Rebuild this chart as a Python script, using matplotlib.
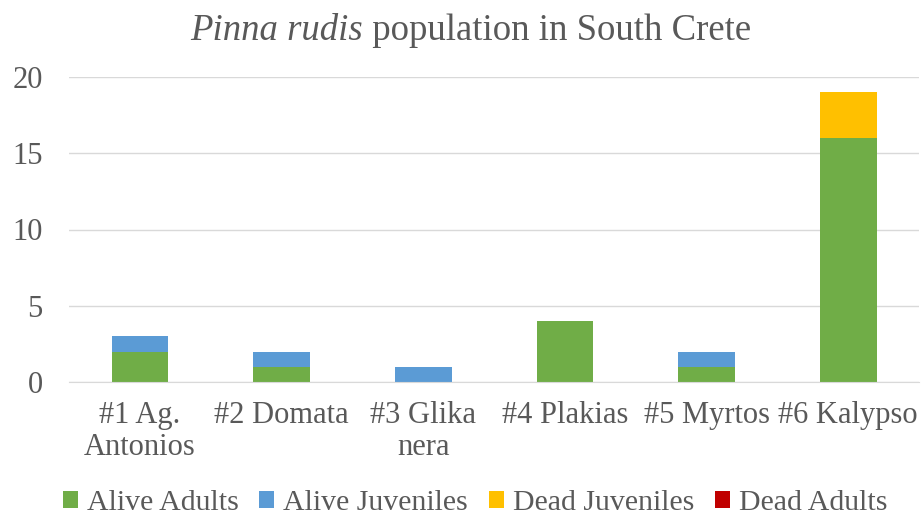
import matplotlib
matplotlib.use("Agg")
import matplotlib.pyplot as plt
import numpy as np

categories = ["#1 Ag.\nAntonios", "#2 Domata", "#3 Glika\nnera", "#4 Plakias", "#5 Myrtos", "#6 Kalypso"]
alive_adults = [2, 1, 0, 4, 1, 16]
alive_juveniles = [1, 1, 1, 0, 1, 0]
dead_juveniles = [0, 0, 0, 0, 0, 3]
dead_adults = [0, 0, 0, 0, 0, 0]
series_names = ["Alive Adults", "Alive Juveniles", "Dead Juveniles", "Dead Adults"]
colors = ["#70AD47", "#5B9BD5", "#FFC000", "#C00000"]
yticks = [0, 5, 10, 15, 20]

plt.rcParams['font.family'] = ['Liberation Serif', 'DejaVu Serif']
txt = "#595959"

fig = plt.figure(figsize=(9.22, 5.18), dpi=100)
ax = fig.add_axes([69/922, 1-382/518, (919-69)/922, (382-77)/518])

x = np.arange(len(categories))
bottom = np.zeros(len(categories))
for name, vals, c in zip(series_names, [alive_adults, alive_juveniles, dead_juveniles, dead_adults], colors):
    ax.bar(x, vals, width=0.4, bottom=bottom, color=c, label=name, zorder=3)
    bottom += np.array(vals)

ax.set_xlim(-0.5, len(categories) - 0.5)
ax.set_ylim(0, 20)
ax.set_yticks(yticks)
ax.set_xticks(x)
ax.set_xticklabels(categories, fontsize=22, color=txt, linespacing=1.12)
ax.tick_params(axis='y', labelsize=22, labelcolor=txt, length=0, pad=19)
ax.tick_params(axis='x', length=0, pad=14)
ax.grid(axis='y', color="#D9D9D9", linewidth=1, zorder=0)
for s in ['top', 'right', 'left']:
    ax.spines[s].set_visible(False)
ax.spines['bottom'].set_color("#D9D9D9")
ax.spines['bottom'].set_zorder(4)

# title with mixed styles
t1 = fig.text(0, 0, "Pinna rudis", fontsize=26.5, color=txt, style='italic')
t2 = fig.text(0, 0, " population in South Crete", fontsize=26.5, color=txt)
fig.canvas.draw()
r = fig.canvas.get_renderer()
w1 = t1.get_window_extent(r).width
W = fig.bbox.width
start = 190
yc = 1 - 31/518
t1.set_position((start / W, yc)); t1.set_va('center')
t2.set_position(((start + w1) / W, yc)); t2.set_va('center')

fig.legend(loc='center', bbox_to_anchor=(475/922, 1-503/518), ncol=4, frameon=False,
           fontsize=21.5, labelcolor=txt, handlelength=0.5, handleheight=0.5,
           handletextpad=0.3, columnspacing=0.7)

fig.savefig("out.png", dpi=100)
